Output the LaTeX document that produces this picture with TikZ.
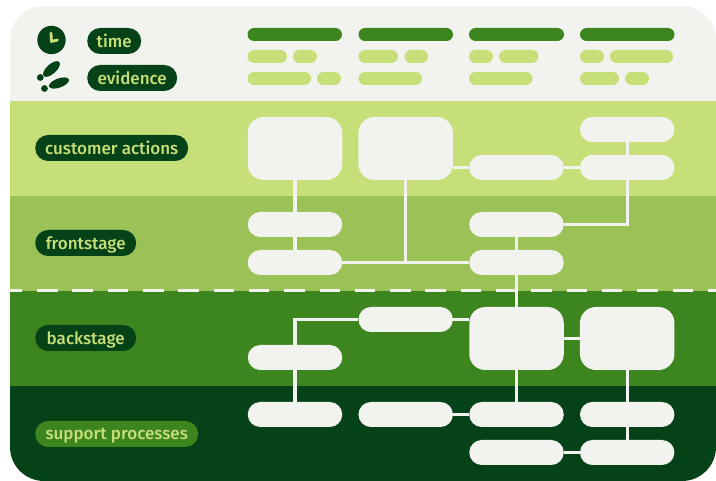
\documentclass[tikz,border=0pt]{standalone}
\usepackage{fontspec}
\setmainfont{Fira Sans Medium}
\definecolor{cardc}{HTML}{F2F3EF}
\definecolor{limec}{HTML}{C7DF78}
\definecolor{midc}{HTML}{9AC256}
\definecolor{greenc}{HTML}{3D851F}
\definecolor{darkc}{HTML}{064217}
\tikzset{
  x=1pt,y=-1pt,
  box/.style={fill=cardc,draw=none,inner sep=0pt,minimum width=94.5pt,minimum height=25pt,rounded corners=12.5pt},
  bigbox/.style={box,minimum height=63pt,rounded corners=16pt},
  tag/.style={fill=#1,inner sep=0pt,minimum height=26pt,rounded corners=13pt,text=limec,font=\fontsize{17}{18}\selectfont,text depth=0pt,anchor=west},
  tag/.default=darkc,
  link/.style={draw=cardc,line width=3.2pt},
  bar/.style={fill=#1,rounded corners=6.5pt,draw=none},
  bar/.default=limec,
}
\newcommand{\hb}[3]{\path[bar] (#1,#3) rectangle (#2,#3+13);}
\newcommand{\hg}[3]{\path[bar=greenc] (#1,#3) rectangle (#2,#3+13);}
\begin{document}
\begin{tikzpicture}
\useasboundingbox (0,0) rectangle (716,481);
\begin{scope}
\clip[rounded corners=34pt] (10,6) rectangle (716,481);
\fill[cardc] (10,6) rectangle (716,101);
\fill[limec] (10,101) rectangle (716,196);
\fill[midc] (10,196) rectangle (716,291);
\fill[greenc] (10,291) rectangle (716,386);
\fill[darkc] (10,386) rectangle (716,481);
\draw[cardc,line width=3pt,dash pattern=on 20.5pt off 14.8pt] (1.8,291) -- (716,291);
\end{scope}
% clock
\fill[darkc] (51.5,40) circle (14.2);
\draw[limec,line width=2.8pt,line cap=round,line join=round] (51,33) -- (51.5,41.5) -- (57.5,40);
% footprints
\fill[darkc,rotate around={42:(51.5,69)}] (51.5,69) ellipse (10.5 and 4.8);
\fill[darkc] (40.3,77.5) circle (3.4);
\fill[darkc,rotate around={20:(59,83)}] (59,83) ellipse (10.5 and 4.6);
\fill[darkc] (44.5,88.5) circle (3.4);
% header bars
\hg{247.5}{342}{28}\hg{358.5}{453}{28}\hg{469}{564}{28}\hg{580}{674.5}{28}
\hb{247.5}{287}{50}\hb{293}{317}{50}\hb{358.5}{398}{50}\hb{404.5}{428}{50}
\hb{469}{493}{50}\hb{499}{538.5}{50}\hb{580}{604}{50}\hb{610}{673}{50}
\hb{247.5}{311}{72}\hb{317}{341}{72}\hb{358.5}{422}{72}\hb{469}{532.5}{72}
\hb{580}{619}{72}\hb{625}{649}{72}
% labels
\node[tag,minimum width=54pt] (ltime) at (87,41) {time};
\node[tag,minimum width=90pt] (levid) at (87,78) {evidence};
\node[tag,minimum width=153pt] (lcust) at (35,148) {customer actions};
\node[tag,minimum width=101pt] (lfront) at (35,243) {frontstage};
\node[tag,minimum width=101pt] (lback) at (35,338) {backstage};
\node[tag=greenc,minimum width=163pt] (lsup) at (35,434) {support processes};
% boxes
\node[bigbox] (a1) at (295,148.5) {};
\node[bigbox] (a2) at (405.7,148.5) {};
\node[box] (a3) at (516.5,167.5) {};
\node[box] (a4t) at (627.2,129.5) {};
\node[box] (a4) at (627.2,167.5) {};
\node[box] (f1t) at (295,224.5) {};
\node[box] (f1) at (295,262.5) {};
\node[box] (f3t) at (516.5,224.5) {};
\node[box] (f3) at (516.5,262.5) {};
\node[box] (b2) at (405.7,319.5) {};
\node[box] (b1) at (295,357.5) {};
\node[bigbox] (b3) at (516.5,338.5) {};
\node[bigbox] (b4) at (627.2,338.5) {};
\node[box] (s1) at (295,414.5) {};
\node[box] (s2) at (405.7,414.5) {};
\node[box] (s3) at (516.5,414.5) {};
\node[box] (s4) at (627.2,414.5) {};
\node[box] (s3b) at (516.5,452.5) {};
\node[box] (s4b) at (627.2,452.5) {};
% connectors
\draw[link] (a1.south) -- (f1t.north);
\draw[link] (f1t.south) -- (f1.north);
\draw[link] (f1.east) -- (f3.west);
\draw[link] (a2.south) -- (a2.south |- f1.east);
\draw[link] (a2.east |- a3.west) -- (a3.west);
\draw[link] (a3.east) -- (a4.west);
\draw[link] (a4t.south) -- (a4.north);
\draw[link] (a4.south) |- (f3t.east);
\draw[link] (f3t.south) -- (f3.north);
\draw[link] (f3.south) -- (b3.north);
\draw[link] (b2.east) -- (b2.east -| b3.west);
\draw[link] (b2.west) -| (b1.north);
\draw[link] (b3.east) -- (b4.west);
\draw[link] (b3.south) -- (s3.north);
\draw[link] (b4.south) -- (s4.north);
\draw[link] (b1.south) -- (s1.north);
\draw[link] (s2.east) -- (s3.west);
\draw[link] (s4.south) -- (s4b.north);
\draw[link] (s3b.east) -- (s4b.west);
\end{tikzpicture}
\end{document}
